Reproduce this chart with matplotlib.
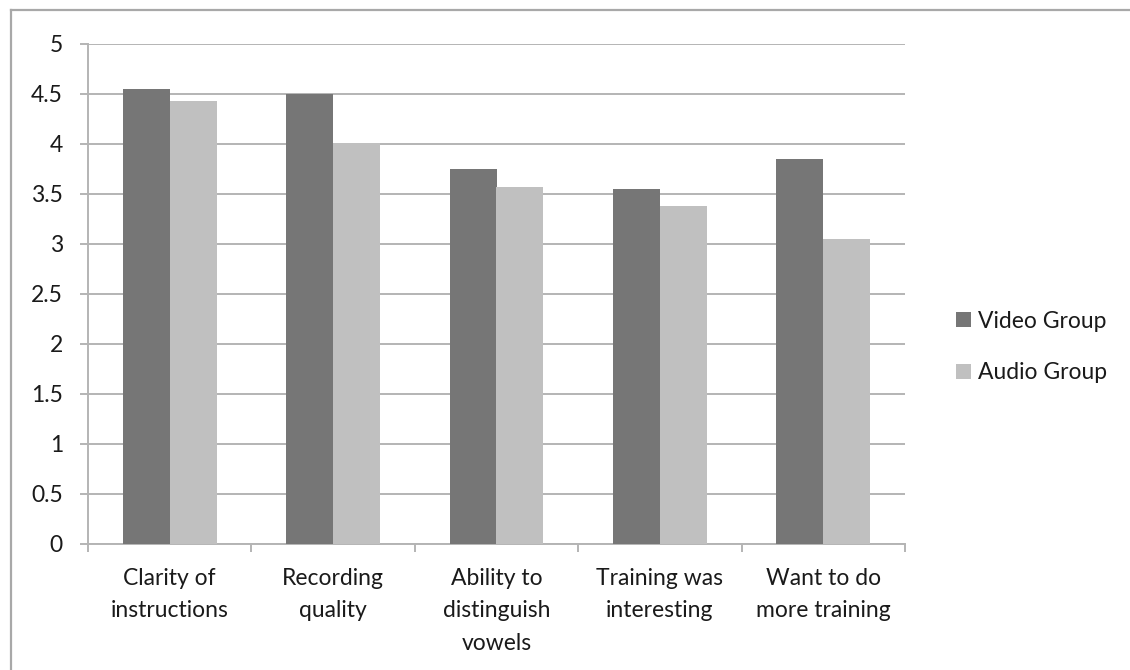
import numpy as np
import matplotlib.pyplot as plt
from matplotlib.lines import Line2D

plt.rcParams['font.family'] = ['Lato', 'DejaVu Sans']

# survey ratings per question, two groups
categories = ["Clarity of\ninstructions", "Recording\nquality",
              "Ability to\ndistinguish\nvowels", "Training was\ninteresting",
              "Want to do\nmore training"]
video_group = [4.55, 4.50, 3.75, 3.55, 3.85]
audio_group = [4.43, 4.01, 3.57, 3.38, 3.05]
y_ticks = [0, 0.5, 1, 1.5, 2, 2.5, 3, 3.5, 4, 4.5, 5]
y_labels = ["0", "0.5", "1", "1.5", "2", "2.5", "3", "3.5", "4", "4.5", "5"]

grid_col = "#b4b4b4"
dark = "#767676"
light = "#c0c0c0"
fs = 16.5

fig = plt.figure(figsize=(11.3, 6.7), dpi=100)
ax = fig.add_axes([88 / 1130, 1 - 544 / 670, (905 - 88) / 1130, 500 / 670])

x = np.arange(len(categories))
w = 0.2875
ax.bar(x - w / 2, video_group, w, color=dark, label="Video Group", zorder=3)
ax.bar(x + w / 2, audio_group, w, color=light, label="Audio Group", zorder=3)

ax.set_xlim(-0.5, len(categories) - 0.5)
ax.set_ylim(0, 5)
ax.set_yticks(y_ticks)
ax.set_yticklabels(y_labels)
ax.yaxis.grid(True, color=grid_col, linewidth=1.4, zorder=0)
ax.set_axisbelow(True)

# boundary ticks below the axis, labels centred under each group
ax.set_xticks(np.arange(len(categories) + 1) - 0.5)
ax.set_xticklabels([])
ax.set_xticks(x, minor=True)
ax.set_xticklabels(categories, minor=True, fontsize=fs, linespacing=1.68,
                   va="top", color="#1a1a1a")
ax.tick_params(axis="x", which="minor", length=0, pad=17)
ax.tick_params(axis="x", which="major", length=6, width=1.4, color=grid_col)
ax.tick_params(axis="y", length=6, width=1.4, color=grid_col, pad=12,
               labelsize=fs, labelcolor="#1a1a1a")

for side in ["top", "right"]:
    ax.spines[side].set_visible(False)
for side in ["left", "bottom"]:
    ax.spines[side].set_color(grid_col)
    ax.spines[side].set_linewidth(1.4)

leg = ax.legend(loc="center left", bbox_to_anchor=(945 / 1130, 1 - 347 / 670),
                bbox_transform=fig.transFigure, frameon=False, fontsize=fs,
                handlelength=0.65, handleheight=0.65, handletextpad=0.3,
                labelspacing=1.35, borderpad=0)
for t in leg.get_texts():
    t.set_color("#1a1a1a")

# chart frame
fig.add_artist(Line2D([11 / 1130, 1], [1 - 10 / 670, 1 - 10 / 670],
                      transform=fig.transFigure, color="#a8a8a8", linewidth=1.6))
fig.add_artist(Line2D([11 / 1130, 11 / 1130], [0, 1 - 10 / 670],
                      transform=fig.transFigure, color="#a8a8a8", linewidth=1.6))

fig.savefig("out.png", dpi=100)
